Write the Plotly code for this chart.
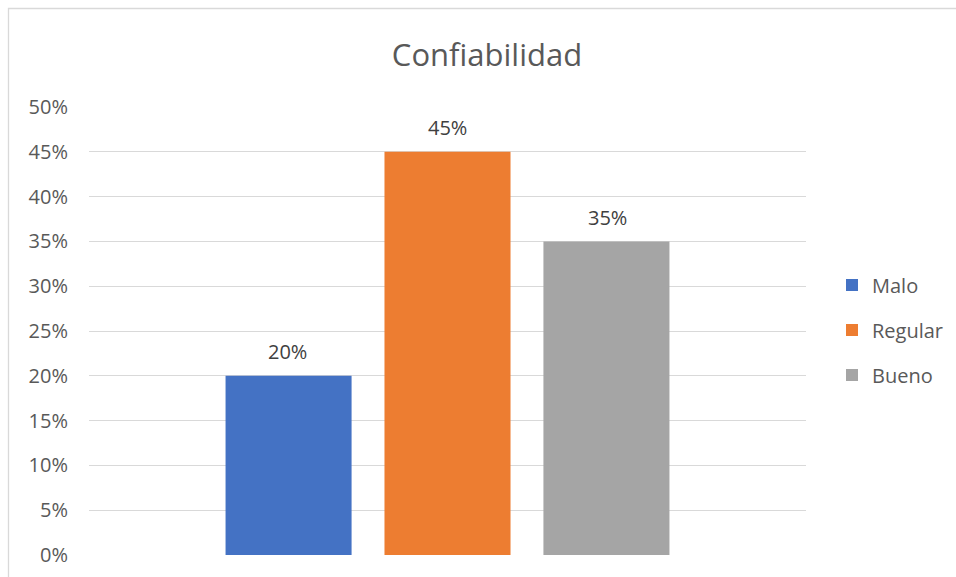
import plotly.graph_objects as go

# Survey result: reliability rating shares
categories = ["Malo", "Regular", "Bueno"]
shares = [0.20, 0.45, 0.35]
colors = ["#4472C4", "#ED7D31", "#A5A5A5"]
y_ticks = [0, 0.05, 0.10, 0.15, 0.20, 0.25, 0.30, 0.35, 0.40, 0.45, 0.50]
y_tick_labels = ["0%", "5%", "10%", "15%", "20%", "25%", "30%", "35%", "40%", "45%", "50%"]

FONT = "'Open Sans', Lato, sans-serif"
TEXT = "#595959"

fig = go.Figure()
for name, val, col in zip(categories, shares, colors):
    fig.add_trace(go.Bar(
        x=["Confiabilidad"], y=[val], name=name, marker_color=col,
        marker_line_width=0, legendgroup=name, hoverinfo="skip",
        offsetgroup=name,
    ))

# Value labels above each bar
annotations = []
for i, (name, val) in enumerate(zip(categories, shares)):
    annotations.append(dict(
        x=(i - 1) * 0.2225, xref="x", y=val, yref="y", yshift=24,
        text=f"{round(val * 100)}%", showarrow=False,
        font=dict(family=FONT, size=20, color="#404040"),
    ))

fig.update_layout(
    width=956, height=577,
    margin=dict(l=89, r=150, t=107, b=22, autoexpand=False),
    paper_bgcolor="white", plot_bgcolor="white",
    barmode="group", bargap=0.335, bargroupgap=0.207,
    title=dict(text="Confiabilidad", x=487 / 956, xanchor="center",
               y=1 - 55 / 577, yanchor="middle",
               font=dict(family=FONT, size=31, color=TEXT)),
    xaxis=dict(showticklabels=False, showgrid=False, zeroline=False,
               showline=False, ticks="", automargin=False),
    yaxis=dict(range=[0, 0.5], tickvals=y_ticks, ticktext=y_tick_labels,
               showgrid=True, gridcolor="#D9D9D9", gridwidth=1.3,
               zeroline=False, showline=False, ticks="",
               ticklabelstandoff=20, automargin=False,
               tickfont=dict(family=FONT, size=20, color=TEXT)),
    legend=dict(x=(832 - 89) / 717, xanchor="left", y=(555 - 330) / 448,
                yanchor="middle", tracegroupgap=16, itemwidth=30,
                font=dict(family=FONT, size=20, color=TEXT),
                bgcolor="rgba(0,0,0,0)"),
    annotations=annotations,
    shapes=[dict(type="rect", xref="paper", yref="paper",
                 x0=(8.5 - 89) / 717, x1=1.4, y0=-0.2, y1=(555 - 8.5) / 448,
                 line=dict(color="#D9D9D9", width=1.3), fillcolor="rgba(0,0,0,0)",
                 layer="below")],
)

fig.write_html("out.html")
